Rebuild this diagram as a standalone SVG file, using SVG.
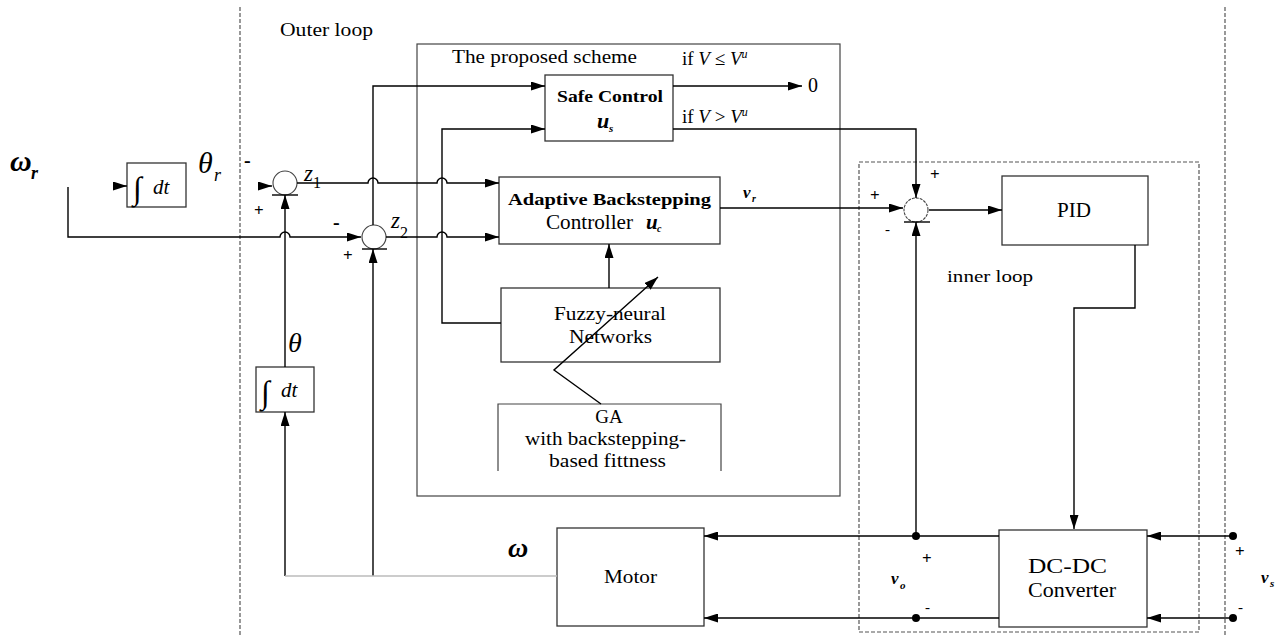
<svg xmlns="http://www.w3.org/2000/svg" width="1280" height="636" viewBox="0 0 1280 636" font-family="'Liberation Serif', 'DejaVu Serif', serif">
<style>
text{font-family:'Liberation Serif','DejaVu Serif',serif;fill:#000}
.box{fill:#fff;stroke:#333;stroke-width:1.3}
.frame{fill:none;stroke:#444;stroke-width:1.2}
.dash{fill:none;stroke:#555;stroke-width:1.2;stroke-dasharray:4 2}
.ln{fill:none;stroke:#000;stroke-width:1.4}
.lg{fill:none;stroke:#bbb;stroke-width:1.4}
.sum{fill:#fff;stroke:#444;stroke-width:1.1}
.it{font-style:italic}
.b{font-weight:bold}
</style>
<defs>
<marker id="ah" viewBox="0 0 14 9" refX="14" refY="4.5" markerWidth="14" markerHeight="9" orient="auto" markerUnits="userSpaceOnUse"><path d="M0,0 L14,4.5 L0,9 z" fill="#000"/></marker>
</defs>
<rect width="1280" height="636" fill="#fff"/>

<g id="frames">
<line class="dash" x1="240" y1="7" x2="240" y2="636"/>
<line class="dash" x1="1225" y1="7" x2="1225" y2="636"/>
<rect class="frame" x="417" y="44" width="423" height="452"/>
<rect class="dash" x="859" y="162" width="340" height="470"/>
<text x="280" y="36" font-size="18" textLength="93" lengthAdjust="spacingAndGlyphs">Outer loop</text>
<text x="452" y="63" font-size="18" textLength="185" lengthAdjust="spacingAndGlyphs">The proposed scheme</text>
<text x="947" y="282" font-size="17" textLength="86" lengthAdjust="spacingAndGlyphs">inner loop</text>
</g>

<g id="int-top">
<rect class="box" x="127" y="163" width="59" height="44"/>
<text x="133" y="199" font-size="32">∫</text>
<text x="153" y="194" font-size="21" class="it">dt</text>
</g>

<g id="sum1">
<circle class="sum" cx="285" cy="183" r="12"/>
<line class="ln" stroke-width="1" x1="272" y1="195" x2="298" y2="195"/>
</g>
<g id="sum2">
<circle class="sum" cx="374" cy="237" r="12"/>
<line class="ln" stroke-width="1" x1="362" y1="249" x2="387" y2="249"/>
</g>
<g id="sum3">
<circle class="sum" cx="916" cy="210" r="12" stroke-dasharray="3 1"/>
<line class="ln" stroke-width="1" x1="904" y1="222" x2="930" y2="222"/>
</g>

<g id="int-theta">
<rect class="box" x="256" y="367" width="58" height="45"/>
<text x="261" y="403" font-size="32">∫</text>
<text x="281" y="397" font-size="21" class="it">dt</text>
</g>

<g id="safe-control">
<rect class="box" x="545" y="75" width="128" height="66"/>
<text x="557" y="102" font-size="16" class="b" textLength="106" lengthAdjust="spacingAndGlyphs">Safe Control</text>
<text x="597" y="128" font-size="22" class="it b">u</text>
<text x="609" y="132" font-size="11" class="it b">s</text>
</g>

<g id="abc">
<rect class="box" x="499" y="177" width="221" height="67"/>
<text x="508" y="205" font-size="16" class="b" textLength="203" lengthAdjust="spacingAndGlyphs">Adaptive Backstepping</text>
<text x="546" y="229" font-size="20" textLength="87" lengthAdjust="spacingAndGlyphs">Controller</text>
<text x="646" y="229" font-size="21" class="it b">u</text>
<text x="657" y="232" font-size="10" class="it b">c</text>
</g>

<g id="fnn">
<rect class="box" x="501" y="288" width="219" height="74"/>
<text x="554" y="320" font-size="19" textLength="112" lengthAdjust="spacingAndGlyphs">Fuzzy-neural</text>
<text x="569" y="343" font-size="19" textLength="83" lengthAdjust="spacingAndGlyphs">Networks</text>
</g>

<g id="ga">
<path class="frame" d="M498,471 V404 H721 V471"/>
<text x="609" y="423" font-size="19" text-anchor="middle">GA</text>
<text x="525" y="445" font-size="19" textLength="161" lengthAdjust="spacingAndGlyphs">with backstepping-</text>
<text x="549" y="467" font-size="19" textLength="117" lengthAdjust="spacingAndGlyphs">based fittness</text>
</g>

<g id="pid">
<rect class="box" x="1002" y="176" width="146" height="69"/>
<text x="1057" y="217" font-size="21" textLength="34" lengthAdjust="spacingAndGlyphs">PID</text>
</g>

<g id="motor">
<rect class="box" x="557" y="528" width="147" height="98"/>
<text x="604" y="583" font-size="18" textLength="53" lengthAdjust="spacingAndGlyphs">Motor</text>
</g>

<g id="dcdc">
<rect class="box" x="999" y="530" width="148" height="97"/>
<text x="1028" y="573" font-size="20" textLength="79" lengthAdjust="spacingAndGlyphs">DC-DC</text>
<text x="1028" y="597" font-size="20" textLength="88" lengthAdjust="spacingAndGlyphs">Converter</text>
</g>

<g id="connectors">
<path class="ln" d="M68,187 V237 H280 A5,5 0 0 1 290,237 H361" marker-end="url(#ah)"/>
<path class="ln" d="M113,186 H127" marker-end="url(#ah)"/>
<path class="ln" d="M258,186 H272" marker-end="url(#ah)"/>
<path class="ln" d="M285,576 V412" marker-end="url(#ah)"/>
<path class="ln" d="M285,367 V195" marker-end="url(#ah)"/>
<path class="ln" d="M373,576 V249" marker-end="url(#ah)"/>
<path class="lg" d="M285,576 H557"/>
<path class="ln" d="M373,225 V86 H545" marker-end="url(#ah)"/>
<path class="ln" d="M297,183 H368 A5,5 0 0 1 378,183 H437 A5,5 0 0 1 447,183 H499" marker-end="url(#ah)"/>
<path class="ln" d="M386,237 H437 A5,5 0 0 1 447,237 H499" marker-end="url(#ah)"/>
<path class="ln" d="M501,323 H442 V129 H545" marker-end="url(#ah)"/>
<path class="ln" d="M609,288 V244" marker-end="url(#ah)"/>
<path class="ln" d="M673,86 H802" marker-end="url(#ah)"/>
<path class="ln" d="M673,129 H916 V198" marker-end="url(#ah)"/>
<path class="ln" d="M720,208 H903" marker-end="url(#ah)"/>
<path class="ln" d="M929,210 H1002" marker-end="url(#ah)"/>
<path class="ln" d="M1135,245 V308 H1074 V529" marker-end="url(#ah)"/>
<path class="ln" d="M916,536 V222" marker-end="url(#ah)"/>
<path class="ln" d="M999,536 H704" marker-end="url(#ah)"/>
<path class="ln" d="M999,618 H704" marker-end="url(#ah)"/>
<path class="ln" d="M1233,536 H1147" marker-end="url(#ah)"/>
<path class="ln" d="M1233,618 H1147" marker-end="url(#ah)"/>
<path class="ln" stroke-width="1.8" d="M601,404 L554,370 L658,277" marker-end="url(#ah)"/>
<circle cx="916" cy="536" r="4" fill="#000"/>
<circle cx="916" cy="618" r="4" fill="#000"/>
<circle cx="1233" cy="536" r="4" fill="#000"/>
<circle cx="1233" cy="618" r="4" fill="#000"/>
</g>

<g id="labels">
<text x="10" y="171" font-size="30" class="it b">ω</text>
<text x="31" y="179" font-size="18" class="it b">r</text>
<text x="198" y="173" font-size="30" class="it">θ</text>
<text x="214" y="181" font-size="18" class="it">r</text>
<text x="244" y="167" font-size="20" class="b">-</text>
<text x="254" y="216" font-size="17" class="b">+</text>
<text x="304" y="181" font-size="23" class="it">z</text>
<text x="313" y="188" font-size="16">1</text>
<text x="391" y="228" font-size="23" class="it">z</text>
<text x="400" y="238" font-size="16">2</text>
<text x="333" y="229" font-size="20" class="b">-</text>
<text x="343" y="261" font-size="17" class="b">+</text>
<text x="288" y="352" font-size="28" class="it">θ</text>
<text x="682" y="65" font-size="19">if <tspan class="it">V</tspan> ≤ <tspan class="it">V</tspan><tspan font-size="12" dy="-7" class="it">u</tspan></text>
<text x="682" y="123" font-size="19">if <tspan class="it">V</tspan> &gt; <tspan class="it">V</tspan><tspan font-size="12" dy="-7" class="it">u</tspan></text>
<text x="808" y="92" font-size="20">0</text>
<text x="743" y="198" font-size="17" class="it b">v</text>
<text x="752" y="202" font-size="10" class="it b">r</text>
<text x="870" y="201" font-size="17" class="b">+</text>
<text x="930" y="180" font-size="17" class="b">+</text>
<text x="885" y="234" font-size="15">-</text>
<text x="508" y="557" font-size="28" class="it b">ω</text>
<text x="891" y="584" font-size="17" class="it b">v</text>
<text x="900" y="589" font-size="11" class="it b">o</text>
<text x="922" y="564" font-size="17" class="b">+</text>
<text x="925" y="612" font-size="15">-</text>
<text x="1261" y="583" font-size="17" class="it b">v</text>
<text x="1270" y="587" font-size="11" class="it b">s</text>
<text x="1235" y="557" font-size="17" class="b">+</text>
<text x="1238" y="612" font-size="15">-</text>
</g>
</svg>
